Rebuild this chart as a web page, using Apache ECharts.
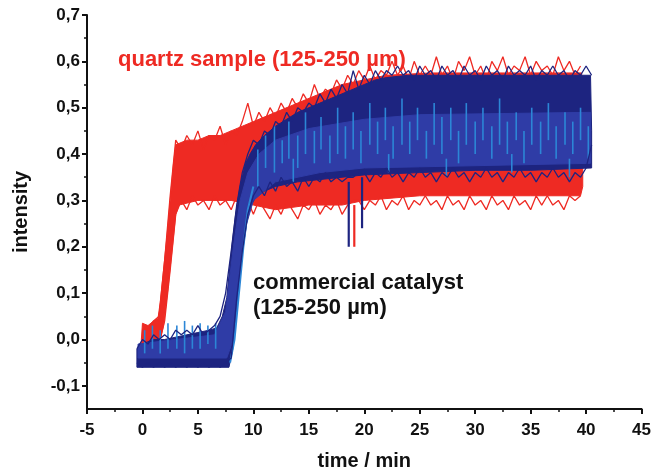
<!DOCTYPE html>
<html><head><meta charset="utf-8">
<script src="https://cdn.jsdelivr.net/npm/echarts@6/dist/echarts.min.js"></script>
<style>html,body{margin:0;padding:0;background:#fff}#c{width:654px;height:476px}</style>
</head><body><div id="c"></div>
<script>
// ---- axis ticks ----
const xMin = -5, xMax = 45, xStep = 5;
const yMin = -0.15, yMax = 0.7;
const yTicks = [-0.1, 0, 0.1, 0.2, 0.3, 0.4, 0.5, 0.6, 0.7];
const yMinorTicks = [-0.05, 0.05, 0.15, 0.25, 0.35, 0.45, 0.55, 0.65];

// ---- envelopes (time / min, intensity) ----
const redUpT = [-0.1,0.0,0.5,1.0,1.4,1.6,1.9,2.2,2.5,2.8,3.0,4,5,6,7,8,9,10,12,14,16,18,20,22,26,30,35,39.6,39.7];
const redUpV = [0.0,0.035,0.03,0.04,0.045,0.08,0.15,0.22,0.30,0.38,0.42,0.43,0.43,0.44,0.44,0.45,0.46,0.47,0.49,0.51,0.53,0.55,0.56,0.57,0.575,0.575,0.575,0.575,0.40];
const redLoT = [-0.1,1.5,1.9,2.3,2.7,3.0,3.3,5,8,10,12,15,18,20,25,30,35,39.5,39.7];
const redLoV = [-0.01,-0.01,0.03,0.11,0.20,0.27,0.29,0.30,0.30,0.29,0.28,0.29,0.29,0.30,0.31,0.31,0.31,0.31,0.33];

const blueUpT = [-0.5,0,1,2,3,4,5,6,6.7,7.2,7.6,8.06,8.4,8.8,9.3,9.7,10.2,11,12,13,14,15,16,17,18,19,20,21,22,24,30,35,40.4,40.5];
const blueUpV = [-0.02,-0.01,0.0,0.0,0.005,0.01,0.015,0.02,0.025,0.05,0.09,0.20,0.27,0.33,0.38,0.40,0.42,0.44,0.46,0.475,0.49,0.50,0.51,0.52,0.53,0.54,0.55,0.56,0.565,0.57,0.57,0.57,0.57,0.45];
const blueLoT = [-0.5,7.8,8.15,8.6,9.05,9.4,9.8,10.3,11,12,14,16,18,20,25,30,35,40.5];
const blueLoV = [-0.06,-0.06,-0.02,0.09,0.20,0.26,0.29,0.31,0.32,0.33,0.34,0.345,0.35,0.355,0.36,0.365,0.365,0.37];

const midUpT = [-0.4,3,6.5,7.5,8.2,8.8,9.5,10.5,12,15,20,25,40.4];
const midUpV = [-0.01,0.0,0.01,0.06,0.20,0.30,0.36,0.40,0.43,0.455,0.475,0.485,0.49];
const midLoT = [-0.4,7.6,8.2,8.8,9.4,10,12,16,20,40.4];
const midLoV = [-0.04,-0.04,0.0,0.15,0.25,0.30,0.34,0.36,0.37,0.38];

// light-blue trace that rises a little later than the others
const lightRiseT = [7.9,8.3,8.7,9.1,9.5,10.0];
const lightRiseV = [-0.05,0.0,0.10,0.20,0.28,0.33];

// ---- noisy edges on a common time grid ----
const tGrid = [-0.5,0,0.5,1,1.5,2,2.5,3,3.5,4,4.5,5,5.5,6,6.5,7,7.5,8,8.5,9,9.5,10,10.5,11,11.5,12,12.5,13,13.5,14,14.5,15,15.5,16,16.5,17,17.5,18,18.5,19,19.5,20,20.5,21,21.5,22,22.5,23,23.5,24,24.5,25,25.5,26,26.5,27,27.5,28,28.5,29,29.5,30,30.5,31,31.5,32,32.5,33,33.5,34,34.5,35,35.5,36,36.5,37,37.5,38,38.5,39,39.5,40,40.5];
const redHi = [null,0.03,0.02,0.04,0.05,0.17,0.31,0.43,0.41,0.44,
  0.42,0.45,0.41,0.44,0.43,0.46,0.42,0.45,0.44,0.47,
  0.51,0.46,0.49,0.47,0.50,0.48,0.51,0.49,0.52,0.50,
  0.53,0.51,0.55,0.52,0.54,0.53,0.56,0.54,0.57,0.55,
  0.58,0.56,0.59,0.56,0.58,0.57,0.60,0.57,0.59,0.56,
  0.60,0.57,0.59,0.57,0.61,0.57,0.59,0.56,0.60,0.58,
  0.61,0.57,0.59,0.56,0.60,0.58,0.61,0.57,0.59,0.58,
  0.61,0.57,0.60,0.58,0.59,0.57,0.61,0.58,0.60,0.57,
  0.59,null,null];
const redLo = [null,-0.01,0.00,-0.01,-0.01,0.04,0.15,0.27,0.30,0.28,
  0.31,0.29,0.30,0.28,0.31,0.29,0.30,0.28,0.31,0.29,
  0.30,0.27,0.30,0.28,0.26,0.29,0.27,0.30,0.28,0.26,
  0.29,0.28,0.30,0.27,0.29,0.28,0.30,0.27,0.29,0.30,
  0.30,0.28,0.30,0.29,0.31,0.28,0.30,0.29,0.31,0.28,
  0.30,0.29,0.31,0.29,0.30,0.28,0.31,0.29,0.30,0.28,
  0.31,0.29,0.30,0.28,0.31,0.29,0.30,0.28,0.31,0.29,
  0.30,0.28,0.31,0.29,0.31,0.29,0.30,0.28,0.31,0.30,
  0.31,null,null];
const navyHi = [-0.02,0.00,-0.01,0.01,0.00,0.01,0.00,0.02,0.01,0.02,
  0.01,0.03,0.01,0.02,0.03,0.05,0.10,0.19,0.29,0.36,
  0.40,0.43,0.42,0.45,0.44,0.47,0.46,0.49,0.47,0.50,
  0.49,0.51,0.50,0.53,0.51,0.54,0.52,0.55,0.53,0.58,
  0.54,0.57,0.55,0.58,0.56,0.58,0.57,0.59,0.57,0.58,
  0.56,0.59,0.57,0.58,0.56,0.59,0.57,0.58,0.56,0.59,
  0.57,0.58,0.56,0.59,0.57,0.58,0.56,0.59,0.57,0.58,
  0.57,0.59,0.56,0.58,0.57,0.59,0.57,0.58,0.56,0.58,
  0.57,0.59,0.57];
const navyLo = [-0.05,-0.06,-0.05,-0.06,-0.05,-0.06,-0.05,-0.06,-0.05,-0.06,
  -0.05,-0.06,-0.05,-0.06,-0.05,-0.06,-0.05,-0.04,0.09,0.19,
  0.27,0.31,0.33,0.31,0.34,0.32,0.35,0.33,0.34,0.32,
  0.35,0.33,0.35,0.34,0.36,0.34,0.35,0.34,0.35,0.35,
  0.36,0.36,0.34,0.36,0.35,0.37,0.35,0.36,0.34,0.36,
  0.35,0.37,0.35,0.36,0.34,0.36,0.35,0.37,0.35,0.36,
  0.34,0.36,0.35,0.37,0.35,0.36,0.34,0.36,0.35,0.37,
  0.35,0.36,0.34,0.36,0.35,0.37,0.35,0.36,0.34,0.36,
  0.35,0.37,0.42];
// light-blue vertical streaks: [time, from, to]
const lightStreaks = [
  [0.2,-0.03,0.02],[0.9,-0.02,0.03],[1.6,-0.03,0.02],[2.3,-0.02,0.035],[3.1,-0.02,0.03],
  [3.8,-0.03,0.04],[4.5,-0.02,0.03],[5.2,-0.02,0.035],[5.9,-0.01,0.03],[6.6,-0.02,0.035],
  [10.4,0.33,0.41],[11.1,0.37,0.44],[11.9,0.36,0.46],[12.6,0.38,0.43],[13.2,0.39,0.47],
  [13.6,0.34,0.39],[14.0,0.37,0.44],[14.7,0.40,0.49],[15.5,0.38,0.45],[16.1,0.41,0.48],
  [16.9,0.38,0.44],[17.6,0.40,0.50],[18.3,0.39,0.46],[19.0,0.41,0.49],[19.7,0.38,0.45],
  [20.5,0.42,0.51],[21.2,0.40,0.47],[21.9,0.43,0.50],[22.2,0.36,0.40],[22.6,0.39,0.46],
  [23.4,0.42,0.52],[24.1,0.40,0.47],[24.8,0.43,0.50],[25.6,0.39,0.45],[26.3,0.42,0.51],
  [27.0,0.40,0.48],[27.4,0.35,0.39],[27.8,0.43,0.50],[28.5,0.38,0.45],[29.2,0.42,0.51],
  [30.0,0.40,0.47],[30.7,0.43,0.50],[31.5,0.39,0.46],[32.2,0.42,0.52],[32.9,0.40,0.47],
  [33.3,0.36,0.40],[33.7,0.43,0.49],[34.4,0.38,0.45],[35.1,0.42,0.50],[35.9,0.40,0.47],
  [36.6,0.43,0.51],[37.3,0.39,0.46],[38.1,0.42,0.49],[38.5,0.35,0.39],[38.8,0.40,0.47],
  [39.5,0.43,0.50],[40.2,0.39,0.46]
];
// isolated downward spikes: [time, from, to]
const blueDips = [[18.6, 0.34, 0.20], [19.8, 0.35, 0.24]];
const redDips = [[19.1, 0.29, 0.20]];

// ---- colours ----
const RED = '#ee2a23', NAVY = '#1d2480', ROYAL = '#2f3ca6', LIGHT = '#2c86d6', INK = '#111';
const FONT = '"Liberation Sans", Arial, sans-serif';

function band(upT, upV, loT, loV, color, z) {
  return {
    type: 'custom', coordinateSystem: 'cartesian2d', silent: true, clip: true, z: z,
    encode: {x: 0, y: 1},
    data: upT.map((t, i) => [t, upV[i]]),
    renderItem: function (params, api) {
      if (params.dataIndex !== 0) return null;
      const pts = [];
      for (let i = 0; i < upT.length; i++) pts.push(api.coord([upT[i], upV[i]]));
      for (let i = loT.length - 1; i >= 0; i--) pts.push(api.coord([loT[i], loV[i]]));
      return {type: 'polygon', shape: {points: pts}, style: {fill: color, stroke: color, lineWidth: 1}};
    }
  };
}
function trace(ts, vals, color, width, z) {
  return {
    type: 'line', silent: true, z: z, showSymbol: false, connectNulls: false, animation: false,
    data: ts.map((t, i) => [t, vals[i]]),
    lineStyle: {color: color, width: width}
  };
}
function streaks(arr, color, width, z) {
  return {
    type: 'custom', coordinateSystem: 'cartesian2d', silent: true, z: z,
    encode: {x: 0, y: [1, 2]},
    data: arr,
    renderItem: function (params, api) {
      const a = api.coord([api.value(0), api.value(1)]);
      const b = api.coord([api.value(0), api.value(2)]);
      return {type: 'line', shape: {x1: a[0], y1: a[1], x2: b[0], y2: b[1]}, style: {stroke: color, lineWidth: width}};
    }
  };
}
const fmtY = v => (Math.round(v * 10) / 10).toFixed(1).replace('.', ',');

const chart = echarts.init(document.getElementById('c'), null, {renderer: 'canvas'});
chart.setOption({
  animation: false,
  backgroundColor: '#fff',
  grid: {left: 87, right: 12, top: 15, bottom: 60, containLabel: false},
  xAxis: {
    type: 'value', min: xMin, max: xMax, interval: xStep,
    name: 'time / min', nameLocation: 'middle', nameGap: 42,
    nameTextStyle: {color: INK, fontSize: 20, fontWeight: 'bold', fontFamily: FONT},
    axisLine: {show: true, onZero: false, lineStyle: {color: INK, width: 2}},
    axisTick: {show: true, length: 5, lineStyle: {color: INK, width: 2}},
    minorTick: {show: true, splitNumber: 2, length: 3, lineStyle: {color: INK, width: 1.5}},
    axisLabel: {color: INK, fontSize: 17, fontWeight: 'bold', fontFamily: FONT, margin: 13},
    splitLine: {show: false}
  },
  yAxis: [{
    type: 'value', min: yMin, max: yMax,
    name: 'intensity', nameLocation: 'middle', nameGap: 56,
    nameTextStyle: {color: INK, fontSize: 20, fontWeight: 'bold', fontFamily: FONT},
    axisLine: {show: true, onZero: false, lineStyle: {color: INK, width: 2}},
    axisTick: {show: true, length: 5, customValues: yTicks, lineStyle: {color: INK, width: 2}},
    axisLabel: {customValues: yTicks, formatter: fmtY, color: INK, fontSize: 17, fontWeight: 'bold', fontFamily: FONT, margin: 7},
    splitLine: {show: false}
  }, {
    type: 'value', min: yMin, max: yMax, position: 'left', offset: 0,
    axisLine: {show: false, onZero: false},
    axisTick: {show: true, length: 3, customValues: yMinorTicks, lineStyle: {color: INK, width: 1.5}},
    axisLabel: {show: false},
    splitLine: {show: false}
  }],
  series: [
    band(redUpT, redUpV, redLoT, redLoV, RED, 1),
    trace(tGrid, redHi, RED, 1.3, 2),
    trace(tGrid, redLo, RED, 1.3, 2),
    streaks(redDips, RED, 2.2, 2),
    band(blueUpT, blueUpV, blueLoT, blueLoV, NAVY, 3),
    band(midUpT, midUpV, midLoT, midLoV, ROYAL, 4),
    trace(lightRiseT, lightRiseV, LIGHT, 2, 5),
    streaks(lightStreaks, LIGHT, 1.6, 5),
    trace(tGrid, navyHi, NAVY, 1.3, 6),
    trace(tGrid, navyLo, NAVY, 1.3, 6),
    streaks(blueDips, NAVY, 2.2, 6)
  ],
  graphic: [
    {type: 'text', left: 118, top: 49, z: 100, style: {text: 'quartz sample (125-250 µm)', fill: RED, font: 'bold 22px ' + FONT}},
    {type: 'text', left: 253, top: 272, z: 100, style: {text: 'commercial catalyst', fill: INK, font: 'bold 22px ' + FONT}},
    {type: 'text', left: 253, top: 297, z: 100, style: {text: '(125-250 µm)', fill: INK, font: 'bold 22px ' + FONT}}
  ]
});
</script></body></html>
